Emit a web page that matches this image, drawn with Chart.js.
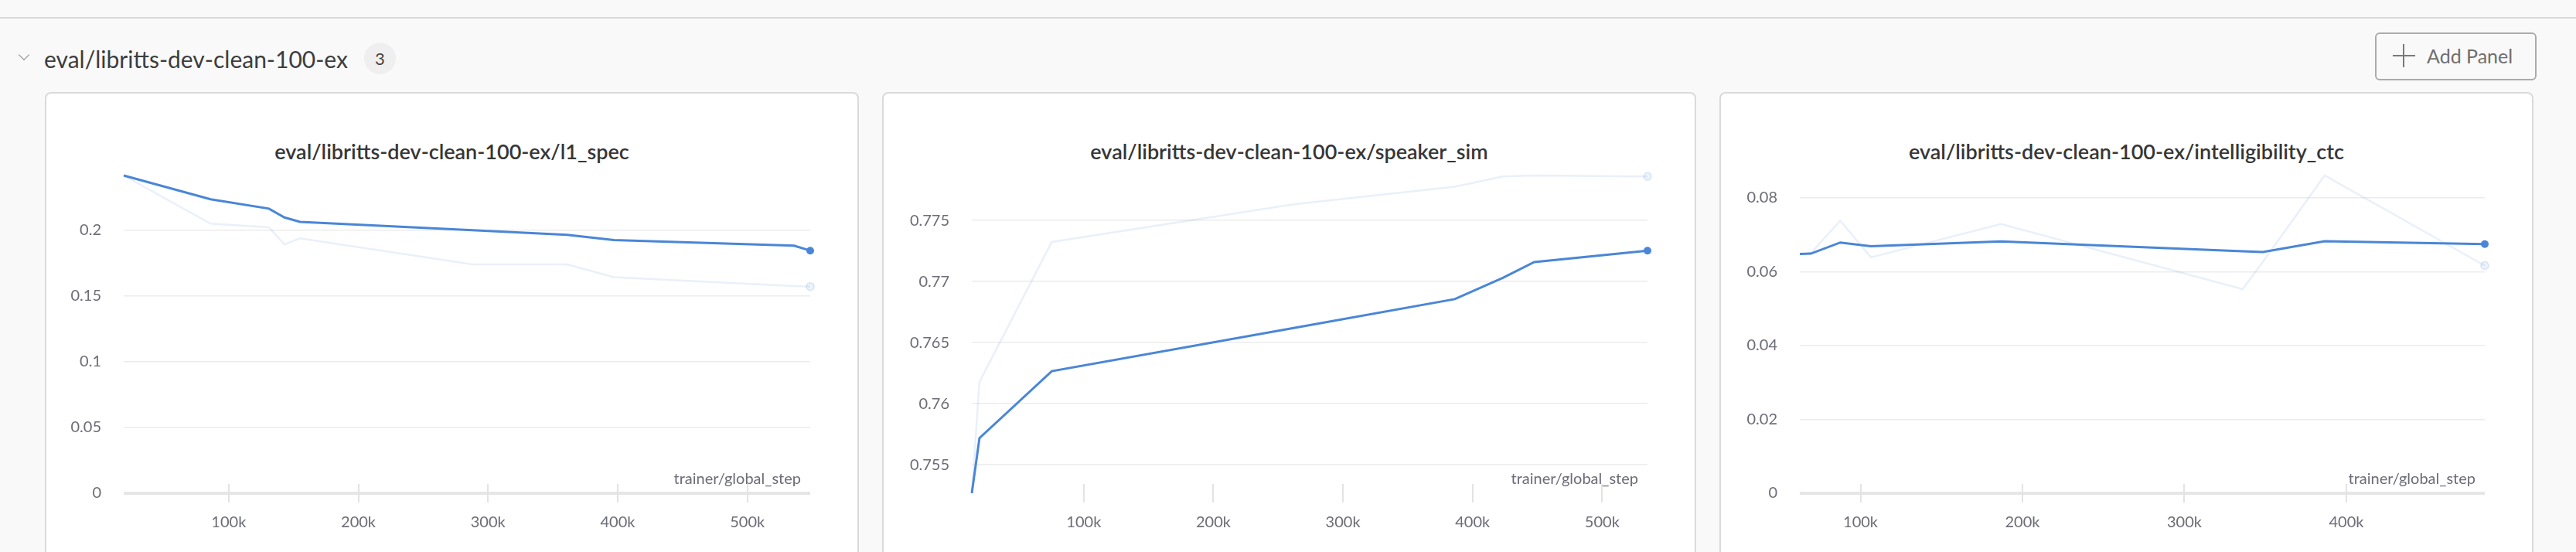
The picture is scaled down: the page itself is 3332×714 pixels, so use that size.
<!DOCTYPE html>
<html lang="fr">
<head>
<meta charset="utf-8">
<title>eval/libritts-dev-clean-100-ex</title>
<script src="https://cdn.jsdelivr.net/npm/chart.js@4.4.1/dist/chart.umd.min.js"></script>
<style>
    html, body { margin: 0; padding: 0; }
    body {
        width: 3332px; height: 714px; overflow: hidden; position: relative;
        background: #f9f9f9; font-family: Lato, "Noto Sans", sans-serif;
    }
    .top-rule { position: absolute; left: 0; top: 22px; width: 3332px; height: 2px; background: #d9d9d9; }
    .chevron {
        position: absolute; left: 26px; top: 66px; width: 9px; height: 9px;
        border-right: 1.5px solid #8a8a8a; border-bottom: 1.5px solid #8a8a8a;
        transform: rotate(45deg);
    }
    .section-title {
        position: absolute; left: 57px; top: 57px; line-height: 38px;
        font-size: 30px; color: #3d3d3d;
    }
    .badge {
        position: absolute; left: 471px; top: 55px; width: 41px; height: 41px; border-radius: 50%;
        background: #efefef; color: #444; font-size: 22px; line-height: 41px; text-align: center;
    }
    .add-panel {
        position: absolute; left: 3072px; top: 42px; width: 209px; height: 62px; box-sizing: border-box;
        border: 2px solid #ababab; border-radius: 6px; background: #f9f9f9;
    }
    .add-panel .plus-h { position: absolute; left: 21px; top: 27px; width: 29px; height: 2px; background: #7a7a7a; }
    .add-panel .plus-v { position: absolute; left: 34px; top: 13px; width: 2px; height: 30px; background: #7a7a7a; }
    .add-panel .label {
        position: absolute; left: 65px; top: 12px; line-height: 32px;
        font-size: 25px; color: #6e6e6e;
    }
    .panel {
        position: absolute; top: 121px; width: 1049px; height: 620px;
        background: #fff; border-radius: 6px; box-shadow: 0 0 0 2px #dadada;
    }
    .panel-title {
        position: absolute; left: 0; right: 0; top: 58px; line-height: 34px;
        text-align: center; font-size: 27px; font-weight: 600; color: #363636;
    }
    .panel canvas { position: absolute; left: 0; top: 0; }
</style>
</head>
<body>
    <div class="top-rule"></div>
    <div class="chevron"></div>
    <div class="section-title">eval/libritts-dev-clean-100-ex</div>
    <div class="badge">3</div>
    <div class="add-panel"><div class="plus-h"></div><div class="plus-v"></div><div class="label">Add Panel</div></div>

    <div class="panel" style="left:60px">
        <div class="panel-title">eval/libritts-dev-clean-100-ex/l1_spec</div>
        <canvas id="chart-l1" width="1049" height="600"></canvas>
    </div>
    <div class="panel" style="left:1143px">
        <div class="panel-title">eval/libritts-dev-clean-100-ex/speaker_sim</div>
        <canvas id="chart-speaker" width="1049" height="600"></canvas>
    </div>
    <div class="panel" style="left:2226px">
        <div class="panel-title">eval/libritts-dev-clean-100-ex/intelligibility_ctc</div>
        <canvas id="chart-ctc" width="1049" height="600"></canvas>
    </div>

<script>
// Graduations communes de l'axe des pas d'entraînement
const xTicks = [100000, 200000, 300000, 400000, 500000];

// l1_spec : pas, valeurs brutes et valeurs lissées
const stepsL1 = [19000, 86000, 131000, 143000, 155000, 288000, 361000, 397000, 536000, 548500];
const rawL1 = [0.2415, 0.2049, 0.2022, 0.1891, 0.1938, 0.1739, 0.1739, 0.1643, 0.1575, 0.1571];
const smoothL1 = [0.2415, 0.2234, 0.2163, 0.2096, 0.2063, 0.1999, 0.1964, 0.1924, 0.1882, 0.1844];
const yTicksL1 = [0, 0.05, 0.1, 0.15, 0.2];

// speaker_sim
const stepsSpeaker = [13600, 19500, 75300, 262000, 386300, 423400, 447600, 535000];
const rawSpeaker = [0.75267, 0.76177, 0.77324, 0.77632, 0.77776, 0.7786, 0.77868, 0.7786];
const smoothSpeaker = [0.75267, 0.75718, 0.76266, 0.7662, 0.76856, 0.7703, 0.77159, 0.77252];
const yTicksSpeaker = [0.755, 0.76, 0.765, 0.77, 0.775];

// intelligibility_ctc
const stepsCtc = [62500, 69300, 87500, 106400, 186800, 336000, 348400, 386600, 485500];
const rawCtc = [0.06483, 0.06506, 0.07385, 0.0639, 0.07294, 0.05529, 0.0626, 0.08607, 0.06168];
const smoothCtc = [0.06483, 0.0649, 0.06792, 0.06689, 0.06824, 0.06556, 0.06534, 0.06827, 0.06748];
const yTicksCtc = [0, 0.02, 0.04, 0.06, 0.08];

const BLUE = 'rgb(74, 134, 215)';
const PALE = 'rgba(74, 134, 215, 0.12)';
const TICK_COLOR = '#6b6c76';
const TICK_FONT = { family: 'Lato', size: 20 };

// Petites graduations verticales et libellé de l'axe des x
const axisDecor = {
    id: 'axisDecor',
    beforeDatasetsDraw(chart) {
        const { ctx, chartArea, scales } = chart;
        ctx.save();
        ctx.strokeStyle = '#e3e3e3';
        ctx.lineWidth = 2;
        scales.x.ticks.forEach(t => {
            const px = Math.round(scales.x.getPixelForValue(t.value));
            ctx.beginPath();
            ctx.moveTo(px, chartArea.bottom - 12);
            ctx.lineTo(px, chartArea.bottom + 12);
            ctx.stroke();
        });
        ctx.fillStyle = TICK_COLOR;
        ctx.font = '20px Lato';
        ctx.textAlign = 'right';
        ctx.textBaseline = 'middle';
        ctx.fillText('trainer/global_step', chartArea.right - 12, chartArea.bottom - 18);
        ctx.restore();
    }
};

// Crée un panneau : courbe lissée au premier plan, courbe brute pâle derrière
function createPanelChart(cfg) {
    const ctx = document.getElementById(cfg.id).getContext('2d');
    const last = cfg.steps.length - 1;
    const allValues = cfg.raw.concat(cfg.smooth);
    const yMin = cfg.fromZero ? 0 : Math.min(...allValues);
    const yMax = Math.max(...allValues);

    return new Chart(ctx, {
        type: 'line',
        data: {
            datasets: [
                {
                    data: cfg.steps.map((s, i) => ({ x: s, y: cfg.smooth[i] })),
                    borderColor: BLUE,
                    backgroundColor: BLUE,
                    borderWidth: 3,
                    tension: 0,
                    clip: false,
                    pointRadius: c => c.dataIndex === last ? 5 : 0,
                    pointBorderWidth: 0
                },
                {
                    data: cfg.steps.map((s, i) => ({ x: s, y: cfg.raw[i] })),
                    borderColor: PALE,
                    backgroundColor: 'rgba(74, 134, 215, 0.1)',
                    borderWidth: 2.5,
                    tension: 0,
                    clip: false,
                    pointRadius: c => c.dataIndex === last ? 5 : 0,
                    pointBorderColor: 'rgba(74, 134, 215, 0.18)',
                    pointBorderWidth: 1.5
                }
            ]
        },
        options: {
            responsive: false,
            animation: false,
            events: [],
            layout: { padding: { top: 106, right: 61, bottom: 0, left: 0 } },
            plugins: { legend: { display: false }, tooltip: { enabled: false } },
            scales: {
                x: {
                    type: 'linear',
                    min: cfg.steps[0],
                    max: cfg.steps[last],
                    border: { display: false },
                    grid: { display: false, drawTicks: false },
                    ticks: {
                        padding: 26, autoSkip: false, maxRotation: 0,
                        color: TICK_COLOR, font: TICK_FONT,
                        callback: v => (v / 1000) + 'k'
                    },
                    afterBuildTicks: s => {
                        s.ticks = xTicks.filter(v => v >= s.min && v <= s.max).map(v => ({ value: v }));
                    },
                    afterFit: s => { s.height = 83; }
                },
                y: {
                    type: 'linear',
                    min: yMin,
                    max: yMax,
                    border: { display: false },
                    grid: {
                        drawTicks: false,
                        color: c => c.tick && c.tick.value === 0 ? '#e6e6e6' : '#ececec',
                        lineWidth: c => c.tick && c.tick.value === 0 ? 4 : 1.5
                    },
                    ticks: {
                        padding: 29, autoSkip: false,
                        color: TICK_COLOR, font: TICK_FONT,
                        callback: v => String(parseFloat(Number(v).toFixed(4)))
                    },
                    afterBuildTicks: s => {
                        s.ticks = cfg.yTicks.filter(v => v >= s.min && v <= s.max).map(v => ({ value: v }));
                    },
                    afterFit: s => { s.width = cfg.axisWidth; }
                }
            }
        },
        plugins: [axisDecor]
    });
}

document.addEventListener('DOMContentLoaded', () => {
    createPanelChart({ id: 'chart-l1', steps: stepsL1, raw: rawL1, smooth: smoothL1, yTicks: yTicksL1, fromZero: true, axisWidth: 100 });
    createPanelChart({ id: 'chart-speaker', steps: stepsSpeaker, raw: rawSpeaker, smooth: smoothSpeaker, yTicks: yTicksSpeaker, fromZero: false, axisWidth: 114 });
    createPanelChart({ id: 'chart-ctc', steps: stepsCtc, raw: rawCtc, smooth: smoothCtc, yTicks: yTicksCtc, fromZero: true, axisWidth: 102 });
});
</script>
</body>
</html>
